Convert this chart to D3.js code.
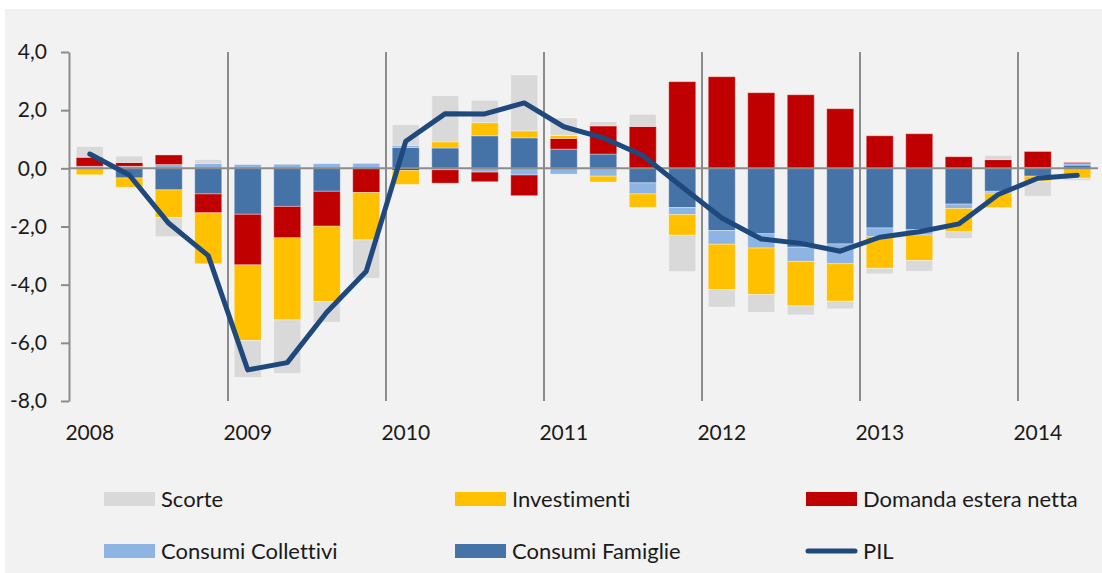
<!DOCTYPE html>
<html>
<head>
<meta charset="utf-8">
<script src="https://cdn.jsdelivr.net/npm/d3@7"></script>
<style>
  html, body { margin: 0; padding: 0; background: #ffffff; }
  text { font-family: Lato, "Open Sans", sans-serif; fill: #1a1a1a; font-variant-ligatures: none; font-feature-settings: "liga" 0; }
</style>
</head>
<body>
<script>
// Data (contributi alla crescita del PIL, trimestrali)
var years = ["2008", "2009", "2010", "2011", "2012", "2013", "2014"];
var quarters = [];
for (var y = 2008; y <= 2014; ++y) {
    for (var q = 1; q <= 4; ++q) {
        if (y == 2014 && q > 2) break;
        quarters.push(y + "Q" + q);
    }
}

var consumiFamiglie = [0.04, -0.33, -0.74, -0.88, -1.58, -1.31, -0.79, 0.0,
    0.72, 0.70, 1.12, 1.05, 0.66, 0.49, -0.50, -1.35, -2.14, -2.25, -2.71, -2.60,
    -2.05, -2.11, -1.23, -0.79, -0.27, 0.11];
var consumiCollettivi = [0.03, 0.07, 0.13, 0.17, 0.13, 0.14, 0.16, 0.17,
    0.07, -0.05, -0.13, -0.23, -0.20, -0.27, -0.38, -0.24, -0.47, -0.49, -0.49, -0.68,
    -0.30, -0.18, -0.15, -0.06, 0.03, 0.05];
var domandaEstera = [0.31, 0.13, 0.33, -0.65, -1.74, -1.08, -1.20, -0.83,
    -0.07, -0.46, -0.33, -0.71, 0.37, 0.97, 1.44, 2.98, 3.15, 2.60, 2.53, 2.05,
    1.12, 1.19, 0.40, 0.30, 0.55, 0.04];
var investimenti = [-0.22, -0.32, -0.95, -1.75, -2.60, -2.82, -2.59, -1.63,
    -0.48, 0.21, 0.45, 0.24, 0.10, -0.20, -0.46, -0.71, -1.56, -1.60, -1.53, -1.29,
    -1.09, -0.88, -0.80, -0.50, -0.17, -0.34];
var scorte = [0.37, 0.22, -0.66, 0.13, -1.27, -1.84, -0.71, -1.32,
    0.71, 1.59, 0.77, 1.92, 0.60, 0.15, 0.42, -1.25, -0.60, -0.61, -0.31, -0.26,
    -0.19, -0.37, -0.23, 0.14, -0.52, -0.08];
var pil = [0.49, -0.23, -1.89, -3.00, -6.93, -6.68, -4.95, -3.54,
    0.93, 1.88, 1.87, 2.25, 1.43, 1.05, 0.44, -0.64, -1.71, -2.43, -2.58, -2.85,
    -2.37, -2.18, -1.91, -0.90, -0.34, -0.24];
var yTicks = [-8, -6, -4, -2, 0, 2, 4];

// stacking order = Excel series order
var keys = ["fam", "col", "est", "inv", "sco"];
var colors = {
    sco: "#d9d9d9",
    inv: "#ffc000",
    est: "#c00000",
    col: "#8db4e2",
    fam: "#4572a7",
    pil: "#1f497d"
};

var table = quarters.map(function(d, i) {
    return {
        q: d,
        fam: consumiFamiglie[i],
        col: consumiCollettivi[i],
        est: domandaEstera[i],
        inv: investimenti[i],
        sco: scorte[i],
        pil: pil[i]
    };
});

var width = 1102, height = 573;

var svg = d3.select("body")
        .append("svg")
        .attr("width", width)
        .attr("height", height);

// light grey chart area
svg.append("rect")
        .attr("x", 5)
        .attr("y", 9)
        .attr("width", width - 5)
        .attr("height", height - 9)
        .attr("fill", "#f2f2f2");

var x = d3.scaleBand()
        .domain(quarters)
        .range([70, 1097])
        .paddingInner(0.316)
        .paddingOuter(0.158);

var yScale = d3.scaleLinear()
        .domain([-8, 4])
        .range([401, 52]);

var gap = (x.step() - x.bandwidth()) / 2;

// year separators
svg.selectAll("line.year")
        .data(years.slice(1))
        .enter()
        .append("line")
        .attr("class", "year")
        .attr("x1", function(d) { return x(d + "Q1") - gap; })
        .attr("x2", function(d) { return x(d + "Q1") - gap; })
        .attr("y1", yScale(4))
        .attr("y2", yScale(-8))
        .attr("stroke", "#8c8c8c")
        .attr("stroke-width", 2);

// y axis (comma decimals, plain hyphen)
var yAxis = d3.axisLeft(yScale)
        .tickValues(yTicks)
        .tickSize(8)
        .tickSizeOuter(0)
        .tickPadding(14)
        .tickFormat(function(d) {
            return d3.format(".1f")(d).replace(".", ",").replace("\u2212", "-");
        });

var gy = svg.append("g")
        .attr("transform", "translate(69,0)")
        .call(yAxis);
gy.select(".domain").attr("stroke", "#8c8c8c").attr("stroke-width", 2);
gy.selectAll(".tick line").attr("stroke", "#8c8c8c").attr("stroke-width", 2);
gy.selectAll(".tick text")
        .attr("font-size", 21)
        .attr("font-family", "Lato, sans-serif")
        .attr("fill", "#1a1a1a");

// stacked bars
var stack = d3.stack()
        .keys(keys)
        .offset(d3.stackOffsetDiverging);
var series = stack(table);

svg.append("g")
        .selectAll("g")
        .data(series)
        .enter()
        .append("g")
        .attr("fill", function(d) { return colors[d.key]; })
        .selectAll("rect")
        .data(function(d) { return d; })
        .enter()
        .append("rect")
        .attr("x", function(d) { return x(d.data.q); })
        .attr("width", x.bandwidth())
        .attr("y", function(d) { return yScale(Math.max(d[0], d[1])); })
        .attr("height", function(d) { return Math.abs(yScale(d[0]) - yScale(d[1])); })
        .attr("stroke", "rgba(255,255,255,0.35)")
        .attr("stroke-width", 1);

// zero line
svg.append("line")
        .attr("x1", 69)
        .attr("x2", 1098)
        .attr("y1", yScale(0))
        .attr("y2", yScale(0))
        .attr("stroke", "#8c8c8c")
        .attr("stroke-width", 2);

// year labels
svg.selectAll("text.year")
        .data(years)
        .enter()
        .append("text")
        .attr("class", "year")
        .attr("x", function(d) { return x(d + "Q1") + x.bandwidth() / 2; })
        .attr("y", 440)
        .attr("text-anchor", "middle")
        .attr("font-size", 21)
        .text(function(d) { return d; });

// PIL line
var line = d3.line()
        .x(function(d) { return x(d.q) + x.bandwidth() / 2; })
        .y(function(d) { return yScale(d.pil); });

svg.append("path")
        .datum(table)
        .attr("d", line)
        .attr("fill", "none")
        .attr("stroke", colors.pil)
        .attr("stroke-width", 5)
        .attr("stroke-linejoin", "round")
        .attr("stroke-linecap", "round");

// legend
var legend = [
    {name: "Scorte", key: "sco", col: 0, row: 0},
    {name: "Investimenti", key: "inv", col: 1, row: 0},
    {name: "Domanda estera netta", key: "est", col: 2, row: 0},
    {name: "Consumi Collettivi", key: "col", col: 0, row: 1},
    {name: "Consumi Famiglie", key: "fam", col: 1, row: 1},
    {name: "PIL", key: "pil", col: 2, row: 1}
];

var lg = svg.selectAll("g.legend")
        .data(legend)
        .enter()
        .append("g")
        .attr("class", "legend")
        .attr("transform", function(d) {
            return "translate(" + (104 + d.col * 351) + "," + (499 + d.row * 52) + ")";
        });

lg.each(function(d) {
    var g = d3.select(this);
    if (d.key == "pil") {
        g.append("line")
            .attr("x1", 2).attr("x2", 49)
            .attr("y1", 0).attr("y2", 0)
            .attr("stroke", colors.pil)
            .attr("stroke-width", 5)
            .attr("stroke-linecap", "round");
    } else {
        g.append("rect")
            .attr("x", 0).attr("y", -7)
            .attr("width", 51).attr("height", 14)
            .attr("fill", colors[d.key]);
    }
    g.append("text")
        .attr("x", 57)
        .attr("y", 8)
        .attr("font-size", 22)
        .text(d.name);
});
</script>
</body>
</html>
